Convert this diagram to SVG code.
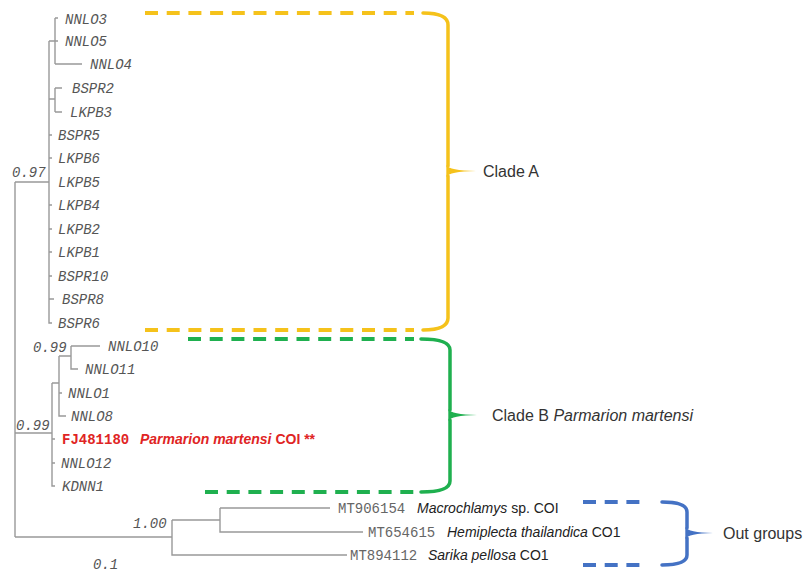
<svg xmlns="http://www.w3.org/2000/svg" width="809" height="573" viewBox="0 0 809 573">
<style>
.br{fill:none;stroke:#999;stroke-width:1.4}
.lf{font-family:"Liberation Mono",monospace;font-style:italic;font-size:14px;fill:#555}
.mt{font-family:"Liberation Mono",monospace;font-size:14px;fill:#666}
.sp{font-family:"Liberation Sans",Arial,sans-serif;font-size:14px;fill:#222}
.sup{font-family:"Liberation Mono",monospace;font-style:italic;font-size:14px;fill:#555}
.cl{font-family:"Liberation Sans",Arial,sans-serif;font-size:16px;fill:#333}
.y{stroke:#F5C21B}
.g{stroke:#1FB04F}
.b{stroke:#4472C4}
.dash{fill:none;stroke-width:4;stroke-dasharray:13 8.7;stroke-linecap:butt}
.solid{fill:none;stroke-width:3.5;stroke-linecap:round}
</style>
<rect width="809" height="573" fill="#fff"/>
<g id="connectors">
<path class="br" d="M15,182 V537 M15,182 H49 M15,433 H52 M15,537 H172"/>
<path class="br" d="M49,41 V323 H52 M49,41 H58 M55,18 V64 M55,18 H58 M55,64 H82 M49,99 H55 M55,88 V112 M55,88 H62 M55,112 H62"/>
<path class="br" d="M49,135 H52 M49,158 H52 M49,205 H52 M49,229 H52 M49,252 H52 M49,276 H52 M49,299 H54"/>
<path class="br" d="M52,383 V486 H55 M52,439 H55 M52,463 H55 M52,383 H59 M59,356 V416 H66 M59,393 H62 M59,356 H71 M71,346 V369 H78 M71,346 H100"/>
<path class="br" d="M172,520 V555 H347 M172,520 H220 M220,508 V532 H363 M220,508 H330"/>
</g>
<g id="clade-A-leaves">
<text class="lf" x="65" y="24">NNLO3</text>
<text class="lf" x="65" y="46">NNLO5</text>
<text class="lf" x="90" y="69">NNLO4</text>
<text class="lf" x="72" y="93">BSPR2</text>
<text class="lf" x="70" y="117">LKPB3</text>
<text class="lf" x="58" y="140">BSPR5</text>
<text class="lf" x="58" y="163">LKPB6</text>
<text class="lf" x="58" y="187">LKPB5</text>
<text class="lf" x="58" y="210">LKPB4</text>
<text class="lf" x="58" y="234">LKPB2</text>
<text class="lf" x="58" y="257">LKPB1</text>
<text class="lf" x="58" y="281">BSPR10</text>
<text class="lf" x="62" y="304">BSPR8</text>
<text class="lf" x="58" y="328">BSPR6</text>
</g>
<g id="clade-B-leaves">
<text class="lf" x="108" y="351">NNLO10</text>
<text class="lf" x="85" y="374">NNLO11</text>
<text class="lf" x="68" y="398">NNLO1</text>
<text class="lf" x="71" y="421">NNLO8</text>
<text x="62" y="444" fill="#E02424" font-size="14"><tspan font-family="Liberation Mono,monospace" font-weight="bold">FJ481180</tspan><tspan font-family="Liberation Sans,Arial,sans-serif" font-weight="bold" font-style="italic" x="140">Parmarion martensi</tspan><tspan font-family="Liberation Sans,Arial,sans-serif" font-weight="bold"> COI **</tspan></text>
<text class="lf" x="61" y="468">NNLO12</text>
<text class="lf" x="62" y="491">KDNN1</text>
</g>
<g id="outgroup-leaves">
<text x="338" y="513"><tspan class="mt">MT906154</tspan><tspan class="sp" x="417" font-style="italic">Macrochlamys</tspan><tspan class="sp"> sp. COI</tspan></text>
<text x="368" y="537"><tspan class="mt">MT654615</tspan><tspan class="sp" x="447" font-style="italic">Hemiplecta thailandica</tspan><tspan class="sp"> CO1</tspan></text>
<text x="350" y="560"><tspan class="mt">MT894112</tspan><tspan class="sp" x="428" font-style="italic">Sarika pellosa</tspan><tspan class="sp"> CO1</tspan></text>
</g>
<g id="support-values">
<text class="sup" x="12" y="177">0.97</text>
<text class="sup" x="33" y="352">0.99</text>
<text class="sup" x="16" y="430">0.99</text>
<text class="sup" x="133" y="528">1.00</text>
<text class="sup" x="93" y="569">0.1</text>
</g>
<g id="clade-A-bracket">
<path class="dash y" d="M145,13 H414 M145,330 H414"/>
<path class="solid y" d="M423,13 Q448,13 448,25 V166 M448,176 V318 Q448,330 423,330"/>
<path fill="#F5C21B" d="M446.3,165 Q449,170.5 476,171 Q449,171.5 446.3,177 Z"/>
<text class="cl" x="483" y="177">Clade A</text>
</g>
<g id="clade-B-bracket">
<path class="dash g" d="M188,339 H414 M205,492 H414"/>
<path class="solid g" d="M421,339 Q450,339 450,350 V410 M450,420 V481 Q450,492 421,492"/>
<path fill="#1FB04F" d="M448.3,409 Q451,414.5 477,415 Q451,415.5 448.3,421 Z"/>
<text class="cl" x="492" y="421">Clade B <tspan font-style="italic">Parmarion martensi</tspan></text>
</g>
<g id="outgroups-bracket">
<path class="dash b" d="M583,502 H642 M583,565 H642"/>
<path class="solid b" d="M662,502 Q687,502 687,512 V528 M687,538 V555 Q687,565 662,565"/>
<path fill="#4472C4" d="M685.3,527 Q688,532.5 713,533 Q688,533.5 685.3,539 Z"/>
<text class="cl" x="723" y="539">Out groups</text>
</g>
</svg>
